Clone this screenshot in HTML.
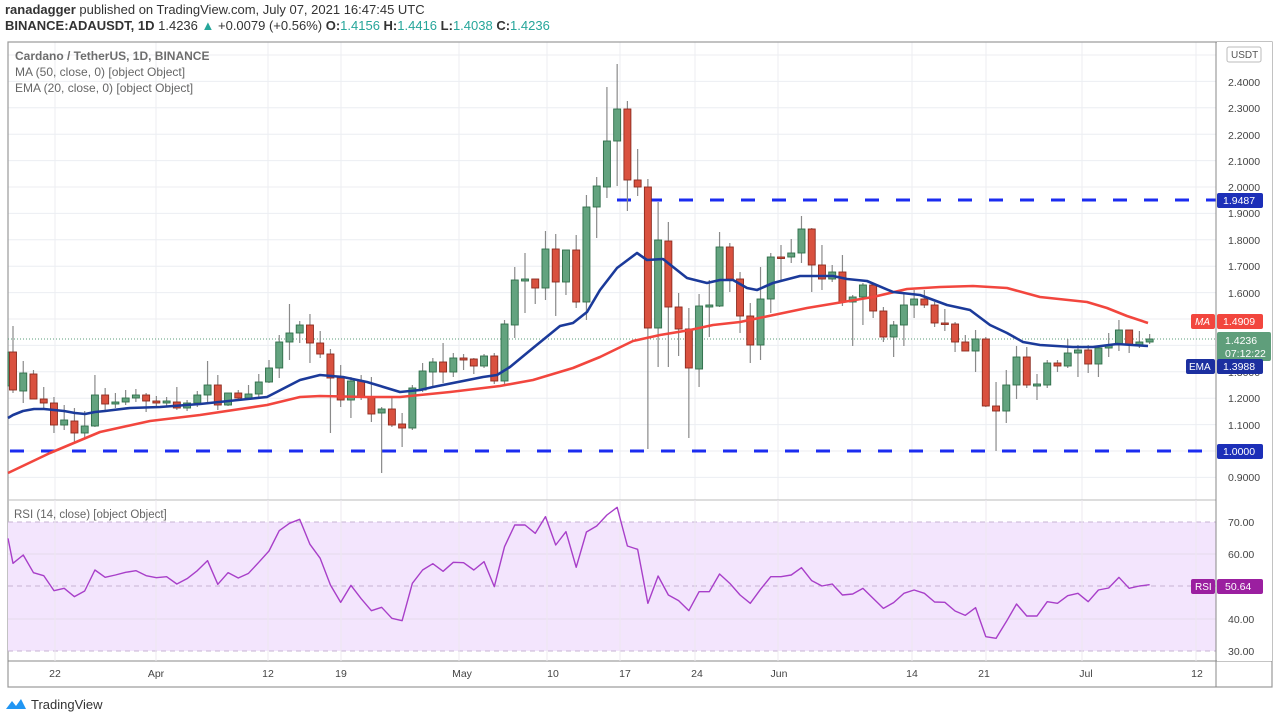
<!DOCTYPE html>
<html><head><meta charset="utf-8">
<style>
body{margin:0;width:1280px;height:721px;background:#fff;overflow:hidden;font-family:"Liberation Sans",sans-serif;}
svg{position:absolute;left:0;top:0}
</style></head><body>
<svg id="s" width="1280" height="721" xmlns="http://www.w3.org/2000/svg" font-family="Liberation Sans, sans-serif">
<g id="grid" stroke="#eceef2" stroke-width="1"></g>
<rect x="8" y="42" width="1264" height="645" fill="none" stroke="#9a9a9a" stroke-width="1.2"/>
<line x1="1216" y1="42" x2="1216" y2="687" stroke="#888" stroke-width="1"/>
<line x1="8" y1="500" x2="1216" y2="500" stroke="#bbb" stroke-width="1"/>
<line x1="8" y1="661" x2="1272" y2="661" stroke="#888" stroke-width="1"/>
<!-- RSI band -->
<rect x="8" y="522" width="1208" height="129" fill="#f3e5fd"/>
<g stroke="#c7b3d3" stroke-dasharray="5,4" stroke-width="1">
<line x1="8" y1="522" x2="1216" y2="522"/><line x1="8" y1="586" x2="1216" y2="586"/><line x1="8" y1="651" x2="1216" y2="651"/>
</g>
<g stroke="#e6dcec" stroke-width="1"><line x1="8" y1="554" x2="1216" y2="554"/><line x1="8" y1="619" x2="1216" y2="619"/></g>
<g id="vgrid" stroke="#ece8ef" stroke-width="1"></g>
<!-- support/resistance -->
<line x1="617" y1="200" x2="1216" y2="200" stroke="#1b2cf0" stroke-width="3" stroke-dasharray="14,17"/>
<line x1="10" y1="451" x2="1216" y2="451" stroke="#1b2cf0" stroke-width="3" stroke-dasharray="14,17"/>
<line x1="8" y1="339" x2="1216" y2="339" stroke="#5a9e78" stroke-width="1" stroke-dasharray="1,2"/>
<g id="candles"></g>
<polyline id="ma" fill="none" stroke="#f2463e" stroke-width="2.6" stroke-linejoin="round"/>
<polyline id="ema" fill="none" stroke="#1b3a9a" stroke-width="2.6" stroke-linejoin="round"/>
<polyline id="rsi" fill="none" stroke="#a83fc9" stroke-width="1.4" stroke-linejoin="round"/>
<rect x="1217" y="42" width="55" height="619" fill="#fff"/>
<line x1="1216" y1="42" x2="1216" y2="687" stroke="#888" stroke-width="1"/>
<g font-size="10.5" fill="#444">
<text x="1228" y="59">2</text>
<text x="1228" y="86">2.4000</text><text x="1228" y="112">2.3000</text><text x="1228" y="139">2.2000</text>
<text x="1228" y="165">2.1000</text><text x="1228" y="191">2.0000</text><text x="1228" y="217">1.9000</text>
<text x="1228" y="244">1.8000</text><text x="1228" y="270">1.7000</text><text x="1228" y="297">1.6000</text>
<text x="1228" y="376">1.3000</text>
<text x="1228" y="402">1.2000</text><text x="1228" y="429">1.1000</text><text x="1228" y="481">0.9000</text>
<text x="1228" y="526">70.00</text><text x="1228" y="558">60.00</text><text x="1228" y="623">40.00</text><text x="1228" y="655">30.00</text>
</g>
<rect x="1227" y="47" width="34" height="15" rx="2" fill="#fff" stroke="#bbb"/>
<text x="1231" y="58" font-size="10" fill="#555">USDT</text>
<!-- labels -->
<rect x="1217" y="193" width="46" height="15" rx="2" fill="#1c2fb8"/><text x="1223" y="204" font-size="10.5" fill="#fff">1.9487</text>
<rect x="1217" y="444" width="46" height="15" rx="2" fill="#1c2fb8"/><text x="1223" y="455" font-size="10.5" fill="#fff">1.0000</text>
<rect x="1191" y="314" width="24" height="15" rx="2" fill="#f2463e"/><text x="1195" y="325" font-size="10" fill="#fff" font-style="italic">MA</text>
<rect x="1217" y="314" width="46" height="15" rx="2" fill="#f2463e"/><text x="1223" y="325" font-size="10.5" fill="#fff">1.4909</text>
<rect x="1217" y="332" width="54" height="29" rx="2" fill="#5f9e7b"/><text x="1225" y="344" font-size="10.5" fill="#fff">1.4236</text><text x="1225" y="357" font-size="10.5" fill="#fff">07:12:22</text>
<rect x="1186" y="359" width="29" height="15" rx="2" fill="#1c2fa0"/><text x="1189" y="370" font-size="10" fill="#fff">EMA</text>
<rect x="1217" y="359" width="46" height="15" rx="2" fill="#1c2fa0"/><text x="1223" y="370" font-size="10.5" fill="#fff">1.3988</text>
<rect x="1191" y="579" width="24" height="15" rx="2" fill="#9b1fa0"/><text x="1195" y="590" font-size="10" fill="#fff">RSI</text>
<rect x="1217" y="579" width="46" height="15" rx="2" fill="#9b1fa0"/><text x="1225" y="590" font-size="10.5" fill="#fff">50.64</text>
<!-- time axis -->
<g font-size="10.5" fill="#444" text-anchor="middle">
<text x="55" y="677">22</text><text x="156" y="677">Apr</text><text x="268" y="677">12</text><text x="341" y="677">19</text>
<text x="462" y="677">May</text><text x="553" y="677">10</text><text x="625" y="677">17</text><text x="697" y="677">24</text>
<text x="779" y="677">Jun</text><text x="912" y="677">14</text><text x="984" y="677">21</text><text x="1086" y="677">Jul</text><text x="1197" y="677">12</text>
</g>
<!-- legend -->
<text x="15" y="60" font-size="12" fill="#555" font-weight="bold" opacity="0.85">Cardano / TetherUS, 1D, BINANCE</text>
<text x="15" y="76" font-size="12" fill="#666">MA (50, close, 0) [object Object]</text>
<text x="15" y="92" font-size="12" fill="#666">EMA (20, close, 0) [object Object]</text>
<text x="14" y="518" font-size="11.5" fill="#666">RSI (14, close) [object Object]</text>
<!-- header -->
<text x="5" y="14" font-size="13" fill="#333"><tspan font-weight="bold">ranadagger</tspan> published on TradingView.com, July 07, 2021 16:47:45 UTC</text>
<text x="5" y="30" font-size="13" fill="#333"><tspan font-weight="bold">BINANCE:ADAUSDT, 1D</tspan> 1.4236 <tspan fill="#26a69a">▲</tspan> +0.0079 (+0.56%) <tspan font-weight="bold">O:</tspan><tspan fill="#26a69a">1.4156</tspan> <tspan font-weight="bold">H:</tspan><tspan fill="#26a69a">1.4416</tspan> <tspan font-weight="bold">L:</tspan><tspan fill="#26a69a">1.4038</tspan> <tspan font-weight="bold">C:</tspan><tspan fill="#26a69a">1.4236</tspan></text>
<!-- logo -->
<g transform="translate(6,697)"><path d="M0 12 L6 4 L10 9 L15 2 L20 12 Z" fill="#2196f3"/></g>
<text x="31" y="709" font-size="13" fill="#333">TradingView</text>
</svg>
<script>
var NS="http://www.w3.org/2000/svg";
function el(p,t,a){var e=document.createElementNS(NS,t);for(var k in a)e.setAttribute(k,a[k]);p.appendChild(e);return e;}
var grid=document.getElementById('grid');
for(var p=0.9;p<=2.51;p+=0.1){var y=451-(p-1)*264;el(grid,'line',{x1:8,x2:1216,y1:y,y2:y});}
var vg=document.getElementById('vgrid');
[55,156,268,341,459,547,620,695,778,912,986,1082,1196].forEach(function(x){el(grid,'line',{x1:x,x2:x,y1:42,y2:500});el(vg,'line',{x1:x,x2:x,y1:500,y2:661});});
var C=[[352,390,326,393,0],[373,391,361,403,1],[374,399,370,399,0],[399,403,387,408,0],[403,425,397,433,0],[420,425,405,430,1],[421,433,408,442,0],[426,433,411,438,1],[395,426,375,427,1],[395,404,388,411,0],
[402,404,393,408,1],[398,402,390,405,1],[395,398,389,402,1],[395,401,393,412,0],[401,403,396,406,0],[401,403,397,407,1],[402,408,387,410,0],[403,408,400,411,1],[395,403,391,407,1],[385,395,361,403,1],
[385,405,375,410,0],[393,405,393,406,1],[393,398,390,401,0],[394,398,385,400,1],[382,394,374,398,1],[368,382,360,383,1],[342,368,335,378,1],[333,342,304,360,1],[325,333,321,343,1],[325,343,314,363,0],
[343,354,331,358,0],[354,378,349,433,0],[378,400,365,407,0],[381,400,377,418,1],[381,397,375,400,0],[397,414,377,422,0],[409,413,407,473,1],[409,425,398,427,0],[424,428,413,447,0],[388,428,385,430,1],
[371,390,363,392,1],[362,372,358,387,1],[362,372,343,383,0],[358,372,353,377,1],[358,360,354,370,0],[359,366,358,374,0],[356,366,354,368,1],[356,381,353,384,0],[324,381,320,384,1],[280,325,267,338,1],
[279,281,253,313,1],[279,288,279,304,0],[249,288,231,300,1],[249,282,234,316,0],[250,282,250,295,1],[250,302,235,308,0],[207,302,195,320,1],[186,207,177,238,1],[141,187,87,198,1],[109,141,64,186,1],
[109,180,101,211,0],[180,187,149,196,0],[187,328,179,449,0],[240,328,202,367,1],[241,307,222,367,0],[307,329,293,356,0],[329,368,308,438,0],[306,369,294,387,1],[305,307,280,337,1],[247,306,232,307,1],
[247,279,243,292,0],[279,316,272,333,0],[316,345,303,363,0],[299,345,267,360,1],[257,299,253,313,1],[257,258,245,280,0],[253,257,239,263,1],[229,253,216,263,1],[229,265,228,292,0],[265,279,245,290,0],
[272,279,265,282,1],[272,302,255,306,0],[297,302,295,346,1],[285,297,283,325,1],[285,311,283,318,0],[311,337,307,342,0],[325,337,321,357,1],[305,325,294,346,1],[299,305,290,318,1],[299,305,290,308,0],
[305,323,302,327,0],[323,324,309,331,0],[324,342,322,352,0],[342,351,335,351,0],[339,351,330,372,1],[339,406,337,407,0],[406,411,382,451,0],[385,411,370,423,1],[357,385,346,399,1],[357,385,347,388,0],
[384,386,374,400,1],[363,385,360,388,1],[363,366,360,372,0],[353,366,339,368,1],[350,353,345,377,1],[350,364,345,373,0],[348,364,346,377,1],[345,348,333,357,1],[330,345,320,351,1],[330,345,330,353,0],
[342,345,331,348,1],[339,342,334,344,1]];
var cg=document.getElementById('candles');
function X(i){return 13+10.24*i;}
el(cg,'rect',{x:8,y:352,width:2.5,height:34,fill:'#63a37f',stroke:'#2f6e4a','stroke-width':0.8});
C.forEach(function(c,i){var x=X(i);
 el(cg,'line',{x1:x,x2:x,y1:c[2],y2:c[3],stroke:'#8a8a8a','stroke-width':1.2});
 var h=Math.max(c[1]-c[0],1.5);
 el(cg,'rect',{x:x-3.5,y:c[0],width:7,height:h,fill:c[4]?'#63a37f':'#d9513f',stroke:c[4]?'#2f6e4a':'#8c2b1f','stroke-width':0.9});
});
var ema=[[8,418],[13,415],[23,411],[34,409],[44,409],[54,410],[64,411],[75,413],[85,414],[95,412],[105,411],[130,408],[160,407],[200,404],[267,397],[300,380],[320,375],[343,377],[367,382],[400,392],[420,390],[433,387],[483,377],[497,375],[510,367],[533,348],[560,326],[573,323],[587,312],[600,290],[617,268],[637,253],[647,260],[663,259],[687,278],[707,283],[720,280],[733,280],[747,288],[757,290],[773,283],[800,276],[833,276],[847,279],[867,281],[893,292],[920,295],[947,305],[970,310],[990,325],[1007,333],[1023,342],[1040,345],[1073,347],[1093,347],[1117,344],[1148,346]];
var ma=[[8,473],[50,453],[100,432],[150,421],[200,415],[267,405],[300,397],[320,396],[367,397],[400,397],[450,392],[500,386],[533,380],[573,368],[600,357],[633,341],[660,335],[690,330],[713,325],[740,322],[807,308],[873,297],[907,289],[940,287],[973,286],[1007,288],[1040,297],[1087,302],[1107,308],[1127,316],[1148,323]];
function pts(a){return a.map(function(p){return p[0]+','+p[1];}).join(' ');}
document.getElementById('ema').setAttribute('points',pts(ema));
document.getElementById('ma').setAttribute('points',pts(ma));
var r1=[115,190,165,218,227,272,265,290,273,210,232,225,217,212,227,233,230,252,236,212,182,253,218,234,220,187,153,92,70,58,133,175,255,307,256,296,332,322,355,362,250,210,191,214,187,188,210,185,260,140,75,75,100,50,135,95,202,96,78,45,22];
var r2=[138,148,310,228,285,302,332,275,275,222,250,285,310,268,230,230,225,203,242,258,252,285,282,265,295,325,308,280,270,280,306,307,333,346,323,410,415,365,312,348,348,305,310,287,280,305,270,264,232,265,258,254];
var rp=[];
r1.forEach(function(v,k){var i=k-1;rp.push([i<0?8:X(i),500+v/3]);});
r2.forEach(function(v,k){rp.push([X(60+k),500+v/3]);});
document.getElementById('rsi').setAttribute('points',pts(rp));
</script>
</body></html>
